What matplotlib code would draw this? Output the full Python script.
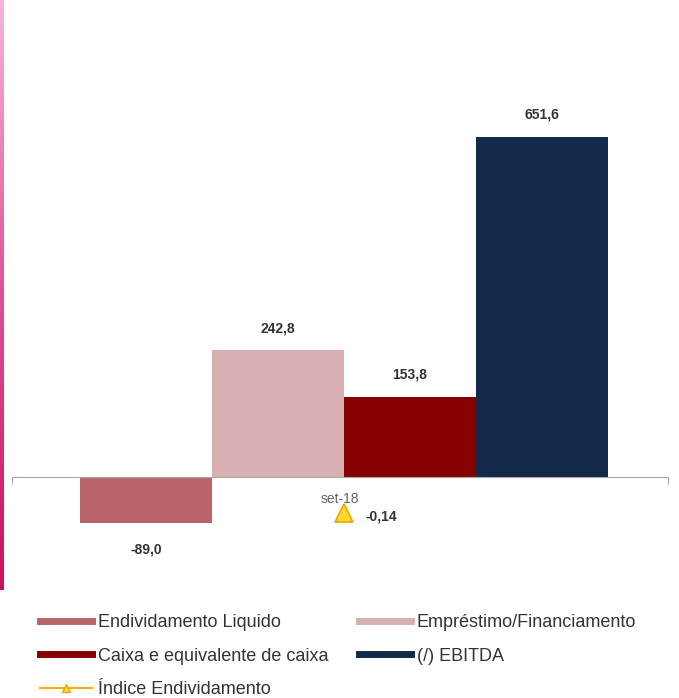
import numpy as np
import matplotlib
matplotlib.use("Agg")
from matplotlib import pyplot as plt
from matplotlib.lines import Line2D

plt.rcParams['font.family'] = ['Liberation Sans', 'DejaVu Sans']

# data
categoria = ['set-18']
series = ['Endividamento Liquido', 'Empréstimo/Financiamento',
          'Caixa e equivalente de caixa', '(/) EBITDA']
valores = [-89.0, 242.8, 153.8, 651.6]
cores = ['#b86468', '#d9b0b2', '#870000', '#13294b']
indice = [-0.14]
indice_nome = 'Índice Endividamento'


def fmt(v, casas):
    return f"{v:.{casas}f}".replace('.', ',')


W, H = 679, 698
fig = plt.figure(figsize=(W / 100, H / 100), dpi=100)

# faixa rosa na esquerda
barra = fig.add_axes([0, 1 - 590 / H, 4 / W, 590 / H])
barra.imshow(np.linspace(0, 1, 100).reshape(-1, 1), aspect='auto',
             cmap=matplotlib.colors.LinearSegmentedColormap.from_list('rosa', ['#f6b3da', '#e0509a', '#cc1060']))
barra.axis('off')

ax = fig.add_axes([12 / W, 1 - 560 / H, 656 / W, 460 / H])
ax.set_xlim(-0.5, 0.5)
ax.set_ylim(-159, 722)

w = 0.201
x0 = np.arange(len(categoria))
for i, (nome, v, c) in enumerate(zip(series, valores, cores)):
    x = x0 + (i - 1.5) * w + 0.006
    ax.bar(x, [v], width=w, color=c, label=nome)
    off = 22 if v >= 0 else -26
    ax.annotate(fmt(v, 1), (x[0], v), xytext=(0, off), textcoords='offset pixels',
                ha='center', va='center', fontsize=10, fontweight='bold', color='#333333')

for s in ['top', 'right', 'left']:
    ax.spines[s].set_visible(False)
ax.spines['bottom'].set_position(('data', 0))
ax.spines['bottom'].set_color('#a6a6a6')
ax.set_yticks([])
ax.set_xticks([-0.5, 0.5], ['', ''])
ax.tick_params(axis='x', which='major', direction='out', length=5, color='#a6a6a6')
ax.set_xticks(x0, categoria, minor=True)
ax.tick_params(axis='x', which='minor', length=0, pad=11, labelsize=10, labelcolor='#5b6b5b')

ax2 = ax.twinx()
ax2.set_ylim(-0.323, 1.467)
ax2.plot(x0 + 0.006, indice, color='#f0b000', marker='^', markersize=13,
         markerfacecolor='#ffd92e', markeredgecolor='#e8a800', markeredgewidth=1.2)
ax2.annotate(fmt(indice[0], 2), (x0[0] + 0.006, indice[0]), xytext=(37, -4),
             textcoords='offset pixels', ha='center', va='center',
             fontsize=10, fontweight='bold', color='#333333')
ax2.axis('off')

handles = [Line2D([], [], color=cores[0], lw=5),
           Line2D([], [], color=cores[2], lw=5),
           Line2D([], [], color='#f0b000', lw=1.5, marker='^', markersize=6,
                  markerfacecolor='#ffd92e', markeredgecolor='#e8a800'),
           Line2D([], [], color=cores[1], lw=5),
           Line2D([], [], color=cores[3], lw=5)]
labels = [series[0], series[2], indice_nome, series[1], series[3]]
fig.legend(handles, labels, ncol=2, loc='upper left', bbox_to_anchor=(40 / W, 1 - 614 / H),
           frameon=False, fontsize=13, handlelength=2.9, handletextpad=0.3,
           columnspacing=1.7, labelspacing=0.92, borderpad=0, borderaxespad=0,
           labelcolor='#333333')

fig.savefig('out.png', dpi=100, facecolor='white')
